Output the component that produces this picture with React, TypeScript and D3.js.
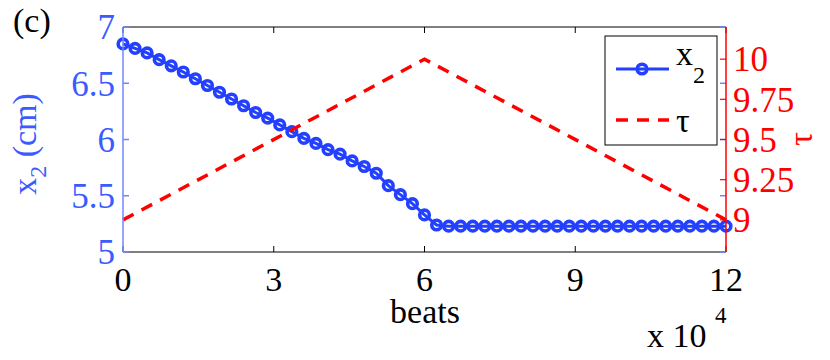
import React from 'react';
import * as d3 from 'd3';

// beats (x 10^4)
const beats = [
  0.0, 0.24, 0.48, 0.72, 0.96, 1.2, 1.44, 1.68, 1.92, 2.16, 2.4, 2.64, 2.88,
  3.12, 3.36, 3.6, 3.84, 4.08, 4.32, 4.56, 4.8, 5.04, 5.28, 5.52, 5.76, 6.0,
  6.24, 6.48, 6.72, 6.96, 7.2, 7.44, 7.68, 7.92, 8.16, 8.4, 8.64, 8.88, 9.12,
  9.36, 9.6, 9.84, 10.08, 10.32, 10.56, 10.8, 11.04, 11.28, 11.52, 11.76, 12.0,
];
const x2Values = [
  6.85, 6.81, 6.77, 6.71, 6.655, 6.6, 6.54, 6.48, 6.42, 6.36, 6.3, 6.24, 6.19,
  6.13, 6.07, 6.01, 5.965, 5.91, 5.87, 5.81, 5.76, 5.7, 5.59, 5.51, 5.43, 5.33,
  5.24, 5.23, 5.23, 5.23, 5.23, 5.23, 5.23, 5.23, 5.23, 5.23, 5.23, 5.23, 5.23,
  5.23, 5.23, 5.23, 5.23, 5.23, 5.23, 5.23, 5.23, 5.23, 5.23, 5.23, 5.23,
];
const tauBeats = [0, 6, 12];
const tauValues = [9, 10, 9];

const xTicks = [0, 3, 6, 9, 12];
const leftTicks = [5, 5.5, 6, 6.5, 7];
const rightTicks = [9, 9.25, 9.5, 9.75, 10];
const rightTickLabels = ['9', '9.25', '9.5', '9.75', '10'];

const BLUE = '#2340ff';
const BLUE_TEXT = '#3a5cff';
const AXIS_BLUE = '#6f88ff';
const RED = '#ff0000';
const SERIF = 'Liberation Serif';

const W = 830;
const H = 360;
const plot = { left: 123, right: 726, top: 27, bottom: 252 };

const T = (props: any) => <text style={{ fontFamily: SERIF }} {...props} />;

export default function App() {
  const x = d3.scaleLinear().domain([0, 12]).range([plot.left, plot.right]);
  const yL = d3.scaleLinear().domain([5, 7]).range([plot.bottom, plot.top]);
  const yR = d3.scaleLinear().domain([8.8, 10.2]).range([plot.bottom, plot.top]);

  const x2Line = d3
    .line()
    .x((_: any, i: number) => x(beats[i]))
    .y((d: any) => yL(d));
  const tauLine = d3
    .line()
    .x((_: any, i: number) => x(tauBeats[i]))
    .y((d: any) => yR(d));

  const { left, right, top, bottom } = plot;
  const tk = 6;

  return (
    <svg width={W} height={H} style={{ position: 'absolute', left: 0, top: 0, background: '#fff' }}>
      <T x={13} y={32} fontSize={34} fill="#000">(c)</T>

      {/* x2 series */}
      <path d={(x2Line as any)(x2Values) || ''} fill="none" stroke={BLUE} strokeWidth={3} />
      {x2Values.map((v, i) => (
        <circle key={i} cx={x(beats[i])} cy={yL(v)} r={4.8} fill="none" stroke={BLUE} strokeWidth={3.6} />
      ))}

      {/* tau series */}
      <path
        d={(tauLine as any)(tauValues) || ''}
        fill="none"
        stroke={RED}
        strokeWidth={3.5}
        strokeDasharray="12,9"
      />

      {/* bottom & top axes */}
      <line x1={left} x2={right} y1={bottom} y2={bottom} stroke="#000" strokeWidth={1} />
      <line x1={left} x2={right} y1={top} y2={top} stroke="#000" strokeWidth={1} />
      {xTicks.map((t) => (
        <g key={'xt' + t}>
          <line x1={x(t)} x2={x(t)} y1={bottom} y2={bottom - tk} stroke="#000" />
          <line x1={x(t)} x2={x(t)} y1={top} y2={top + tk} stroke="#000" />
          <T x={x(t)} y={291} fontSize={34} textAnchor="middle" fill="#000">
            {t}
          </T>
        </g>
      ))}
      <T x={425} y={323} fontSize={34} textAnchor="middle" fill="#000">beats</T>
      <T x={647} y={347} fontSize={34} fill="#000">x 10</T>
      <T x={715} y={323} fontSize={23} fill="#000">4</T>

      {/* left axis */}
      <line x1={left} x2={left} y1={top} y2={bottom} stroke={AXIS_BLUE} strokeWidth={1.5} />
      {leftTicks.map((t) => (
        <g key={'yl' + t}>
          <line x1={left} x2={left + tk} y1={yL(t)} y2={yL(t)} stroke={AXIS_BLUE} strokeWidth={1.5} />
          <line x1={right} x2={right - tk} y1={yL(t)} y2={yL(t)} stroke={AXIS_BLUE} strokeWidth={1.5} />
          <T x={left - 8} y={yL(t)} dy="0.35em" fontSize={35} textAnchor="end" fill={BLUE_TEXT}>
            {t}
          </T>
        </g>
      ))}
      <T transform="translate(36,144) rotate(-90)" fontSize={34} textAnchor="middle" fill={BLUE_TEXT}>
        x<tspan fontSize={24} dy={10}>2</tspan>
        <tspan dy={-10}> (cm)</tspan>
      </T>

      {/* right axis */}
      {rightTicks.map((t, i) => (
        <g key={'yr' + t}>
          <line x1={right} x2={right - tk} y1={yR(t)} y2={yR(t)} stroke={RED} strokeWidth={1.2} />
          <T x={right + 7} y={yR(t)} dy="0.35em" fontSize={35} fill={RED}>
            {rightTickLabels[i]}
          </T>
        </g>
      ))}
      <line x1={right} x2={right} y1={top} y2={bottom} stroke={RED} strokeWidth={1.5} />
      <T transform="translate(812,139) rotate(-90)" fontSize={34} textAnchor="middle" fill={RED}>
        τ
      </T>

      {/* legend */}
      <rect x={605} y={36} width={112} height={109} fill="#fff" stroke="#000" strokeWidth={1} />
      <line x1={616} x2={669} y1={69} y2={69} stroke={BLUE} strokeWidth={3} />
      <circle cx={642} cy={69} r={4.8} fill="none" stroke={BLUE} strokeWidth={3.6} />
      <T x={676} y={65} fontSize={34} fill="#000">
        x<tspan fontSize={24} dy={18}>2</tspan>
      </T>
      <line x1={616} x2={669} y1={120} y2={120} stroke={RED} strokeWidth={3.5} strokeDasharray="12,9" />
      <T x={676} y={132} fontSize={34} fill="#000">τ</T>
    </svg>
  );
}
